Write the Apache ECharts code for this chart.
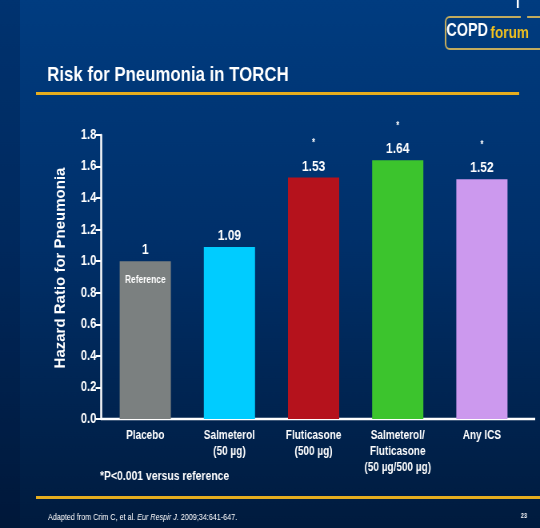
<!DOCTYPE html>
<html>
<head>
<meta charset="utf-8">
<style>
  html, body { margin: 0; padding: 0; background: #002a5c; overflow: hidden; width: 540px; height: 528px; }
  /* the slide is laid out 675px wide and condensed horizontally to 540px */
  #chart { width: 675px; height: 528px; transform: scaleX(0.8); transform-origin: 0 0; }
</style>
<script src="https://cdn.jsdelivr.net/npm/echarts@6/dist/echarts.min.js"></script>
</head>
<body>
<div id="chart"></div>
<script>
// Treatment arms and their hazard ratios for pneumonia (TORCH)
const categories = [
  'Placebo',
  'Salmeterol\n(50 µg)',
  'Fluticasone\n(500 µg)',
  'Salmeterol/\nFluticasone\n(50 µg/500 µg)',
  'Any ICS'
];
const hazardRatios = [1, 1.09, 1.53, 1.64, 1.52];
const significance = ['', '', '*', '*', '*'];
const barColors = ['#7b8080', '#00ccff', '#b5121c', '#3cc42d', '#cc99ee'];
const referenceMarks = ['Reference', null, null, null, null];
const yTicks = { min: 0, max: 1.8, interval: 0.2 };
const yAxisTitle = 'Hazard Ratio for Pneumonia';

const FONT = '"Liberation Sans", Arial, sans-serif';

const chart = echarts.init(document.getElementById('chart'), null, { renderer: 'canvas' });

chart.setOption({
  backgroundColor: {
    type: 'linear', x: 0, y: 0, x2: 0, y2: 1,
    colorStops: [
      { offset: 0, color: '#003c80' },
      { offset: 0.45, color: '#00306a' },
      { offset: 1, color: '#001b3e' }
    ]
  },
  animation: false,
  title: {
    text: 'Risk for Pneumonia in TORCH',
    left: 54, top: 60,
    textStyle: { color: '#ffffff', fontFamily: FONT, fontWeight: 'bold', fontSize: 21 }
  },
  grid: { left: 129, right: 20, top: 135, bottom: 109 },
  xAxis: {
    type: 'category',
    data: categories,
    axisLine: { show: false },
    axisTick: { show: false },
    axisLabel: {
      color: '#ffffff', fontFamily: FONT, fontWeight: 'bold', fontSize: 12.5,
      lineHeight: 16, margin: 9, interval: 0
    }
  },
  yAxis: {
    type: 'value',
    min: yTicks.min, max: yTicks.max, interval: yTicks.interval,
    offset: 2.5,
    splitLine: { show: false },
    axisLine: { show: true, lineStyle: { color: '#ffffff', width: 2.5 } },
    axisTick: { show: true, length: 7, lineStyle: { color: '#ffffff', width: 2 } },
    axisLabel: {
      color: '#ffffff', fontFamily: FONT, fontWeight: 'bold', fontSize: 14, margin: 6,
      formatter: v => v.toFixed(1)
    }
  },
  series: [
    {
      type: 'bar',
      barWidth: 64,
      data: hazardRatios.map((v, i) => ({ value: v, itemStyle: { color: barColors[i] } })),
      label: {
        show: true,
        position: 'top',
        distance: 2,
        formatter: p => significance[p.dataIndex]
          ? '{s|' + significance[p.dataIndex] + '}\n{v|' + p.value + '}'
          : '{v|' + p.value + '}',
        rich: {
          v: { color: '#ffffff', fontFamily: FONT, fontWeight: 'bold', fontSize: 15, lineHeight: 18 },
          s: { color: '#ffffff', fontFamily: FONT, fontWeight: 'bold', fontSize: 10, lineHeight: 28 }
        }
      }
    },
    {
      // caption inside the reference (placebo) bar
      type: 'bar',
      barWidth: 64,
      barGap: '-100%',
      silent: true,
      itemStyle: { color: 'rgba(0,0,0,0)' },
      data: referenceMarks.map((t, i) => (t ? hazardRatios[i] : null)),
      label: {
        show: true,
        position: 'insideTop',
        distance: 13,
        formatter: p => referenceMarks[p.dataIndex] || '',
        color: '#ffffff', fontFamily: FONT, fontWeight: 'bold', fontSize: 10.5
      }
    }
  ]
});

// Baseline of the plot, running from the y-axis to the slide's right side
const base = chart.convertToPixel({ gridIndex: 0 }, [0, 0]);
const yAxisX = 126.5;

chart.setOption({
  graphic: [
    // darker strip at the slide's left edge
    { type: 'rect', left: 0, top: 0, shape: { width: 25, height: 528 },
      style: { fill: 'rgba(0,10,40,0.18)' }, z: -1, silent: true },
    // baseline
    { type: 'line', shape: { x1: yAxisX, y1: base[1], x2: 669, y2: base[1] },
      style: { stroke: '#ffffff', lineWidth: 2.5 } },
    // y-axis title (scaleY undoes the page's horizontal condensing for rotated glyphs)
    { type: 'text', x: 76, y: 268, rotation: Math.PI / 2, scaleY: 1.25,
      style: { text: yAxisTitle, fill: '#ffffff', align: 'center', verticalAlign: 'middle',
               font: 'bold 15px "Liberation Sans", Arial, sans-serif' } },
    // gold rule below the title
    { type: 'rect', shape: { x: 45, y: 92, width: 604, height: 3 },
      style: { fill: '#e6ad1f' } },
    // gold rule above the citation
    { type: 'rect', shape: { x: 45, y: 496, width: 630, height: 3 },
      style: { fill: '#e6ad1f' } },
    // COPD forum badge
    { type: 'rect', shape: { x: 557, y: 17, width: 140, height: 32, r: 5 },
      style: { fill: 'rgba(0,0,0,0)', stroke: '#c2ab5e', lineWidth: 2 } },
    { type: 'rect', shape: { x: 651, y: 15, width: 8, height: 4 },
      style: { fill: '#003b7e' } },
    { type: 'text', left: 558, top: 22,
      style: { text: 'COPD', fill: '#ffffff', font: 'bold 18px "Liberation Sans", Arial, sans-serif' } },
    { type: 'text', left: 613, top: 25,
      style: { text: 'forum', fill: '#f2c21e', font: 'bold 17px "Liberation Sans", Arial, sans-serif' } },
    { type: 'rect', shape: { x: 646, y: 0, width: 2.5, height: 8 },
      style: { fill: '#ffffff' } },
    // footnote
    { type: 'text', left: 125, top: 470,
      style: { text: '*P<0.001 versus reference', fill: '#ffffff',
               font: 'bold 13px "Liberation Sans", Arial, sans-serif' } },
    // citation
    { type: 'text', left: 60, top: 513,
      style: {
        text: '{n|Adapted from Crim C, et al. }{i|Eur Respir J.}{n| 2009;34:641-647.}',
        rich: {
          n: { fill: '#ffffff', font: '9px "Liberation Sans", Arial, sans-serif' },
          i: { fill: '#ffffff', font: 'italic 9px "Liberation Sans", Arial, sans-serif' }
        }
      } },
    // slide number
    { type: 'text', left: 651, top: 513,
      style: { text: '23', fill: '#ffffff', font: 'bold 7px "Liberation Sans", Arial, sans-serif' } }
  ]
});
</script>
</body>
</html>
